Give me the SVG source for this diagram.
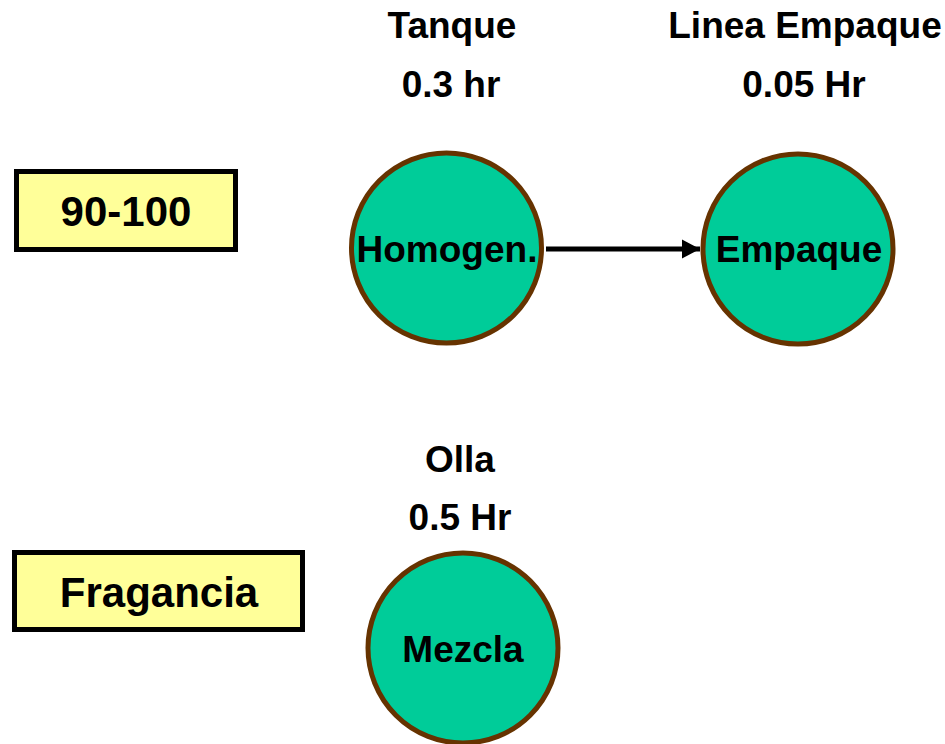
<svg xmlns="http://www.w3.org/2000/svg" width="945" height="744" viewBox="0 0 945 744">
  <style>
    .lbl { font-family: "Liberation Sans", Arial, sans-serif; font-weight: bold; font-size: 37px; fill: #000; text-anchor: middle; }
    .big { font-size: 42px; }
    .proc { fill: #00CC99; stroke: #663300; stroke-width: 5; }
    .tag { fill: #FFFF99; stroke: #000; stroke-width: 5; }
    .edge { stroke: #000; stroke-width: 5; fill: none; }
  </style>
  <defs>
    <marker id="arrow" markerUnits="userSpaceOnUse" markerWidth="20" markerHeight="20" refX="18" refY="10" orient="auto">
      <path d="M0,0.5 L18,10 L0,19.5 Z" fill="#000"/>
    </marker>
  </defs>
  <rect width="945" height="744" fill="#fff"/>

  <g id="tag-90-100">
    <rect class="tag" x="16.5" y="171.5" width="219" height="78"/>
    <text class="lbl big" x="126" y="226">90-100</text>
  </g>

  <g id="tag-fragancia">
    <rect class="tag" x="14.5" y="552.5" width="288" height="77"/>
    <text class="lbl big" x="159" y="607">Fragancia</text>
  </g>

  <g id="node-homogen">
    <text class="lbl" x="452" y="38">Tanque</text>
    <text class="lbl" x="451" y="97">0.3 hr</text>
    <circle class="proc" cx="446.5" cy="248" r="95"/>
    <text class="lbl" x="447" y="262">Homogen.</text>
  </g>

  <g id="node-empaque">
    <text class="lbl" x="805" y="38">Linea Empaque</text>
    <text class="lbl" x="804" y="97">0.05 Hr</text>
    <circle class="proc" cx="798" cy="249" r="95"/>
    <text class="lbl" x="799" y="262">Empaque</text>
  </g>

  <g id="node-mezcla">
    <text class="lbl" x="460" y="472">Olla</text>
    <text class="lbl" x="460" y="530">0.5 Hr</text>
    <circle class="proc" cx="463" cy="648" r="95"/>
    <text class="lbl" x="463" y="662">Mezcla</text>
  </g>

  <g id="connectors">
    <line class="edge" x1="546" y1="249" x2="700" y2="249" marker-end="url(#arrow)"/>
  </g>
</svg>
